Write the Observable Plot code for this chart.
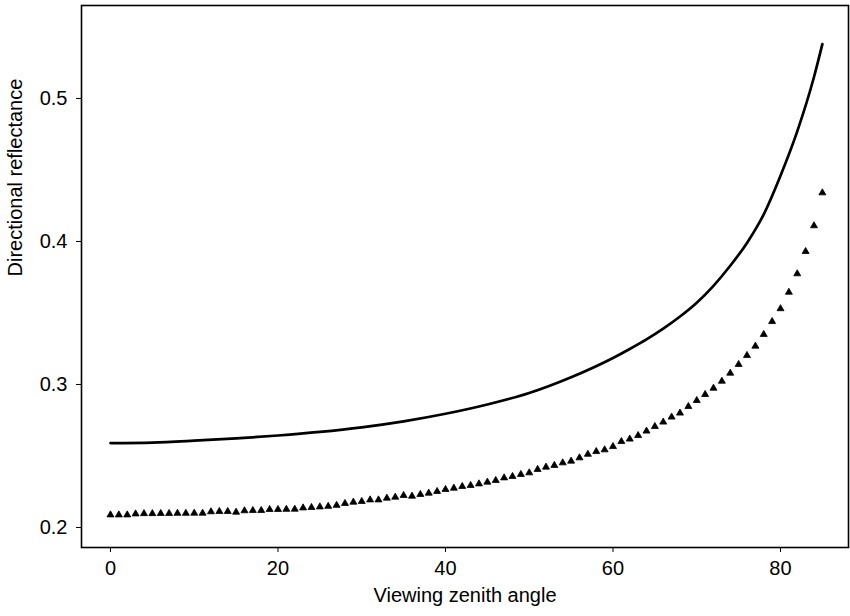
<!DOCTYPE html>
<html>
<head>
<meta charset="utf-8">
<script src="https://cdn.jsdelivr.net/npm/d3@7"></script>
<script src="https://cdn.jsdelivr.net/npm/@observablehq/plot@0.6"></script>
<style>
  html, body { margin: 0; padding: 0; background: #fff; }
  #chart { width: 850px; height: 616px; }
</style>
</head>
<body>
<div id="chart"></div>
<script>
// Solid curve: viewing zenith angle (deg) and directional reflectance
const lineAngles = [0, 5, 10, 15, 20, 25, 30, 35, 40, 45, 50, 55, 60, 62, 64, 66, 68, 70, 72, 74, 76, 78, 80, 82, 84, 85];
const lineValues = [0.259, 0.2594, 0.2607, 0.2623, 0.2643, 0.2668, 0.2700, 0.2742, 0.2795, 0.2860, 0.2940, 0.3050, 0.3185, 0.3248, 0.3315, 0.3390, 0.3475, 0.3572, 0.3690, 0.3830, 0.3990, 0.4190, 0.4460, 0.4770, 0.5150, 0.5380];

// Triangle-marker series: one marker per degree
const dotAngles = [0,1,2,3,4,5,6,7,8,9,10,11,12,13,14,15,16,17,18,19,20,21,22,23,24,25,26,27,28,29,30,31,32,33,34,35,36,37,38,39,40,41,42,43,44,45,46,47,48,49,50,51,52,53,54,55,56,57,58,59,60,61,62,63,64,65,66,67,68,69,70,71,72,73,74,75,76,77,78,79,80,81,82,83,84,85];
const dotValues = [
  0.2088, 0.2088, 0.2088, 0.2095, 0.2097, 0.2097, 0.2098, 0.2098, 0.2099, 0.2099,
  0.2100, 0.2100, 0.2110, 0.2112, 0.2112, 0.2107, 0.2117, 0.2119, 0.2119, 0.2126,
  0.2126, 0.2127, 0.2128, 0.2137, 0.2140, 0.2144, 0.2148, 0.2155, 0.2168, 0.2177,
  0.2182, 0.2193, 0.2193, 0.2205, 0.2212, 0.2224, 0.2219, 0.2231, 0.2240, 0.2252,
  0.2266, 0.2275, 0.2287, 0.2294, 0.2305, 0.2317, 0.2329, 0.2347, 0.2357, 0.2371,
  0.2382, 0.2406, 0.2422, 0.2434, 0.2452, 0.2464, 0.2487, 0.2512, 0.2531, 0.2543,
  0.2566, 0.2601, 0.2618, 0.2643, 0.2674, 0.2706, 0.2737, 0.2772, 0.2800, 0.2846,
  0.2888, 0.2930, 0.2974, 0.3023, 0.3079, 0.3140, 0.3203, 0.3268, 0.3350, 0.3440,
  0.3530, 0.3645, 0.3774, 0.3930, 0.4110, 0.4340
];

const xTicks = [0, 20, 40, 60, 80];
const yTicks = [0.2, 0.3, 0.4, 0.5];
const xTitle = "Viewing zenith angle";
const yTitle = "Directional reflectance";

const lineData = lineAngles.map((a, i) => ({angle: a, value: lineValues[i]}));
const dotData = dotAngles.map((a, i) => ({angle: a, value: dotValues[i]}));

const font = "'Liberation Sans', Arial, Helvetica, sans-serif";

const chart = Plot.plot({
  width: 850,
  height: 616,
  marginLeft: 81,
  marginRight: 2,
  marginTop: 5,
  marginBottom: 69,
  style: {fontFamily: font, fontSize: "20px", color: "#000", background: "#fff"},
  x: {domain: [-3.46, 88.12], ticks: xTicks},
  y: {domain: [0.186, 0.565], ticks: yTicks},
  marks: [
    Plot.frame({stroke: "#000", strokeWidth: 1.6}),
    Plot.axisX(xTicks, {tickSize: 5, tickPadding: 8, fontSize: 20, label: null, stroke: "#000"}),
    Plot.axisY(yTicks, {tickSize: 5, tickPadding: 9, fontSize: 20, label: null, tickFormat: d3.format(".1f"), stroke: "#000"}),
    Plot.text([xTitle], {frameAnchor: "bottom", dy: 54, fontSize: 20, fill: "#000"}),
    Plot.text([yTitle], {frameAnchor: "left", dx: -66, rotate: -90, fontSize: 20, fill: "#000"}),
    Plot.line(lineData, {x: "angle", y: "value", curve: "monotone-x", stroke: "#000", strokeWidth: 2.7}),
    Plot.dot(dotData, {x: "angle", y: "value", symbol: "triangle", r: 2.6, fill: "#000", stroke: "#000", strokeWidth: 0.8})
  ]
});

document.getElementById("chart").appendChild(chart);
</script>
</body>
</html>
